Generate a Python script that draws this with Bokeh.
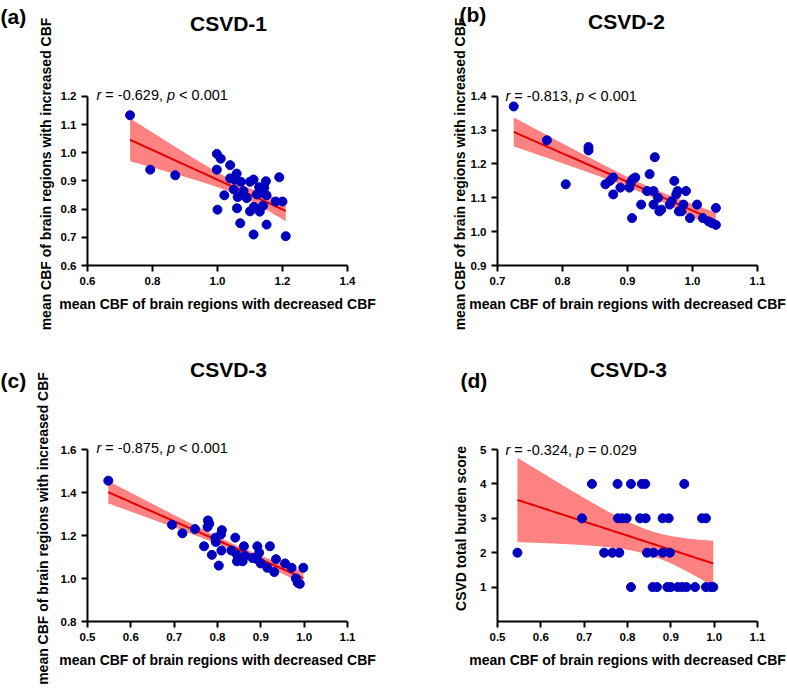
import numpy as np
from bokeh.plotting import figure
from bokeh.layouts import column, row
from bokeh.models import Range1d, FixedTicker, Label
from bokeh.embed import file_html
from bokeh.resources import INLINE

# ---------------- data ----------------
# (a) CSVD-1
a_x = [0.731, 0.793, 0.870, 0.998, 1.010, 0.998, 1.000, 1.021, 1.039, 1.039, 1.059, 1.053,
       1.072, 1.050, 1.062, 1.060, 1.070, 1.080, 1.090, 1.100, 1.111, 1.100, 1.112, 1.111,
       1.128, 1.133, 1.130, 1.140, 1.144, 1.149, 1.151, 1.151, 1.190, 1.179, 1.200, 1.210, 1.121]
a_y = [1.133, 0.940, 0.920, 0.996, 0.979, 0.940, 0.798, 0.849, 0.956, 0.909, 0.926, 0.905,
       0.897, 0.870, 0.843, 0.803, 0.750, 0.864, 0.839, 0.897, 0.905, 0.792, 0.808, 0.710,
       0.878, 0.858, 0.791, 0.812, 0.876, 0.899, 0.849, 0.745, 0.913, 0.827, 0.827, 0.704, 0.852]

# (b) CSVD-2
b_x = [0.725, 0.776, 0.805, 0.840, 0.840, 0.866, 0.873, 0.878, 0.878, 0.889, 0.903, 0.905,
       0.908, 0.912, 0.907, 0.921, 0.930, 0.934, 0.940, 0.940, 0.942, 0.947, 0.949, 0.952,
       0.965, 0.968, 0.972, 0.975, 0.977, 0.979, 0.983, 0.986, 0.990, 0.996, 1.007, 1.016,
       1.025, 1.030, 1.036, 1.036]
b_y = [1.370, 1.270, 1.140, 1.250, 1.240, 1.140, 1.150, 1.160, 1.110, 1.130, 1.130, 1.145,
       1.155, 1.160, 1.040, 1.080, 1.120, 1.170, 1.120, 1.080, 1.220, 1.100, 1.060, 1.065,
       1.080, 1.090, 1.150, 1.110, 1.120, 1.060, 1.060, 1.080, 1.120, 1.040, 1.080, 1.040,
       1.030, 1.025, 1.070, 1.020]

# (c) CSVD-3, increased vs decreased CBF
c_x = [0.548, 0.695, 0.719, 0.748, 0.778, 0.781, 0.777, 0.769, 0.787, 0.803, 0.810, 0.808,
       0.795, 0.796, 0.809, 0.841, 0.832, 0.845, 0.845, 0.858, 0.861, 0.864, 0.881, 0.892,
       0.896, 0.891, 0.900, 0.921, 0.915, 0.931, 0.935, 0.956, 0.971, 0.981, 0.985, 0.990, 0.998]
c_y = [1.455, 1.250, 1.210, 1.230, 1.270, 1.255, 1.240, 1.150, 1.110, 1.060, 1.225, 1.205,
       1.190, 1.170, 1.130, 1.190, 1.130, 1.110, 1.080, 1.080, 1.150, 1.105, 1.095, 1.150,
       1.120, 1.090, 1.070, 1.150, 1.050, 1.030, 1.090, 1.070, 1.050, 1.000, 0.980, 0.975, 1.050]

# (d) CSVD-3, total burden score vs decreased CBF
d_x = [0.718, 0.777, 0.808, 0.833, 0.841, 0.931,
       0.695, 0.778, 0.788, 0.798, 0.829, 0.842, 0.881, 0.895, 0.972, 0.981,
       0.546, 0.746, 0.765, 0.781, 0.845, 0.860, 0.881, 0.898,
       0.808, 0.858, 0.868, 0.892, 0.900, 0.916, 0.926, 0.936, 0.956, 0.981, 0.992, 0.998]
d_y = [4, 4, 4, 4, 4, 4,
       3, 3, 3, 3, 3, 3, 3, 3, 3, 3,
       2, 2, 2, 2, 2, 2, 2, 2,
       1, 1, 1, 1, 1, 1, 1, 1, 1, 1, 1, 1]

panel_letters = ["(a)", "(b)", "(c)", "(d)"]
panel_titles = ["CSVD-1", "CSVD-2", "CSVD-3", "CSVD-3"]
r_values = ["-0.629,", "-0.813,", "-0.875,", "-0.324,"]
p_texts = ["< 0.001", "< 0.001", "< 0.001", "= 0.029"]
x_title = "mean CBF of brain regions with decreased CBF"
y_titles = ["mean CBF of brain regions with increased CBF",
            "mean CBF of brain regions with increased CBF",
            "mean CBF of brain regions with increased CBF",
            "CSVD total burden score"]

a_xticks = [0.6, 0.8, 1.0, 1.2, 1.4]
a_xlabels = ["0.6", "0.8", "1.0", "1.2", "1.4"]
a_yticks = [0.6, 0.7, 0.8, 0.9, 1.0, 1.1, 1.2]
a_ylabels = ["0.6", "0.7", "0.8", "0.9", "1.0", "1.1", "1.2"]
b_xticks = [0.7, 0.8, 0.9, 1.0, 1.1]
b_xlabels = ["0.7", "0.8", "0.9", "1.0", "1.1"]
b_yticks = [0.9, 1.0, 1.1, 1.2, 1.3, 1.4]
b_ylabels = ["0.9", "1.0", "1.1", "1.2", "1.3", "1.4"]
c_xticks = [0.5, 0.6, 0.7, 0.8, 0.9, 1.0, 1.1]
c_xlabels = ["0.5", "0.6", "0.7", "0.8", "0.9", "1.0", "1.1"]
c_yticks = [0.8, 1.0, 1.2, 1.4, 1.6]
c_ylabels = ["0.8", "1.0", "1.2", "1.4", "1.6"]
d_yticks = [1, 2, 3, 4, 5]
d_ylabels = ["1", "2", "3", "4", "5"]

FONT = "Liberation Sans"
DOT = "#0000BE"
LINE = "#E30000"
BAND = "#FF8282"
TOP_PAD = 14  # px of empty frame above the top tick, so the statistics text is not clipped


def fit_band(x, y, t=2.03, n_pts=120):
    x = np.asarray(x, float)
    y = np.asarray(y, float)
    n = len(x)
    b, a = np.polyfit(x, y, 1)
    xs = np.linspace(x.min(), x.max(), n_pts)
    yh = a + b * xs
    s = np.sqrt(np.sum((y - (a + b * x)) ** 2) / (n - 2))
    sxx = np.sum((x - x.mean()) ** 2)
    se = s * np.sqrt(1.0 / n + (xs - x.mean()) ** 2 / sxx)
    return xs, yh, yh - t * se, yh + t * se


def make_panel(i, xs, ys, xr, yr, xt, xl, yt, yl, width, height, bl, br, bt, bb,
               ylab_standoff, letter_pos, title_pos, stat_pos):
    page_left, page_top = frame_origin[i]
    fw = width - bl - br
    fh = height - bt - bb          # height of the data area (axis span)
    unit_y = (yr[1] - yr[0]) / fh
    y_end = yr[1] + TOP_PAD * unit_y

    p = figure(width=width, height=height, output_backend="svg", toolbar_location=None,
               x_range=Range1d(*xr), y_range=Range1d(yr[0], y_end),
               min_border_left=bl, min_border_right=br, min_border_top=bt - TOP_PAD,
               min_border_bottom=bb)
    p.background_fill_color = "white"
    p.border_fill_color = "white"
    p.outline_line_color = None
    p.xgrid.visible = False
    p.ygrid.visible = False

    fx, fy, lo, hi = fit_band(xs, ys)
    p.varea(x=fx, y1=lo, y2=hi, fill_color=BAND, fill_alpha=1.0)
    p.line(fx, fy, line_color=LINE, line_width=2)
    p.scatter(xs, ys, size=9, fill_color=DOT, line_color=DOT)

    p.xaxis.ticker = FixedTicker(ticks=xt)
    p.xaxis.major_label_overrides = dict(zip(xt, xl))
    p.yaxis.ticker = FixedTicker(ticks=yt)
    p.yaxis.major_label_overrides = dict(zip(yt, yl))
    p.yaxis.bounds = (yr[0], yr[1])
    p.xaxis.axis_label = x_title
    p.yaxis.axis_label = y_titles[i]
    for ax in (p.xaxis[0], p.yaxis[0]):
        ax.axis_line_width = 2
        ax.axis_line_color = "black"
        ax.major_tick_line_width = 2
        ax.major_tick_line_color = "black"
        ax.major_tick_out = 6
        ax.major_tick_in = 0
        ax.minor_tick_line_color = None
        ax.major_label_text_font = FONT
        ax.major_label_text_font_style = "bold"
        ax.major_label_text_font_size = "11.5px"
        ax.major_label_text_color = "black"
        ax.major_label_standoff = 5
        ax.axis_label_text_font = FONT
        ax.axis_label_text_font_style = "bold"
        ax.axis_label_text_font_size = "14px"
        ax.axis_label_text_color = "black"
    p.xaxis.axis_label_standoff = 8
    p.yaxis.axis_label_standoff = ylab_standoff

    def to_data(px, py):
        return (xr[0] + (px - page_left) / fw * (xr[1] - xr[0]),
                yr[1] - (py - page_top) * unit_y)

    # header texts live in the "above" side panel so they are not clipped to the frame
    lx, ly = to_data(*letter_pos)
    p.add_layout(Label(x=lx, y=ly, text=panel_letters[i], text_font=FONT, text_font_style="bold",
                       text_font_size="21px", text_align="left", text_baseline="alphabetic",
                       text_color="black"), "above")
    tx, ty = to_data(*title_pos)
    p.add_layout(Label(x=tx, y=ty, text=panel_titles[i], text_font=FONT, text_font_style="bold",
                       text_font_size="21px", text_align="center", text_baseline="alphabetic",
                       text_color="black"), "above")
    fs = 14.5
    sx0, sy0 = stat_pos
    pieces = [("r", "italic", 0.0),
              ("= " + r_values[i], "normal", 0.611 * fs),
              ("p", "italic", 4.864 * fs),
              (p_texts[i], "normal", 5.698 * fs)]
    for txt, style, off in pieces:
        px_, py_ = to_data(sx0 + off, sy0)
        p.add_layout(Label(x=px_, y=py_, text=txt, text_font=FONT, text_font_style=style,
                           text_font_size=f"{fs}px", text_align="left", text_baseline="alphabetic",
                           text_color="black"))
    return p


frame_origin = [(87, 94), (497, 96), (87, 449), (497, 449)]

pa = make_panel(0, a_x, a_y, (0.6, 1.4), (0.6, 1.2), a_xticks, a_xlabels, a_yticks, a_ylabels,
                398, 358, 87, 51, 94, 93, 4, (0, 13), (228, 20), (96, 93))
pb = make_panel(1, b_x, b_y, (0.7, 1.1), (0.9, 1.4), b_xticks, b_xlabels, b_yticks, b_ylabels,
                389, 358, 99, 30, 96, 90, 0, (459, 13), (626, 20), (505, 96))
pc = make_panel(2, c_x, c_y, (0.5, 1.1), (0.8, 1.6), c_xticks, c_xlabels, c_yticks, c_ylabels,
                398, 334, 87, 51, 91, 71, 7, (0, 380), (228, 369), (96, 447))
pd = make_panel(3, d_x, d_y, (0.5, 1.1), (0, 5), c_xticks, c_xlabels, d_yticks, d_ylabels,
                389, 334, 99, 30, 91, 71, 8, (460, 380), (628, 369), (505, 449))

layout = column(row(pa, pb), row(pc, pd))
open("out.html", "w").write(file_html(layout, INLINE))
